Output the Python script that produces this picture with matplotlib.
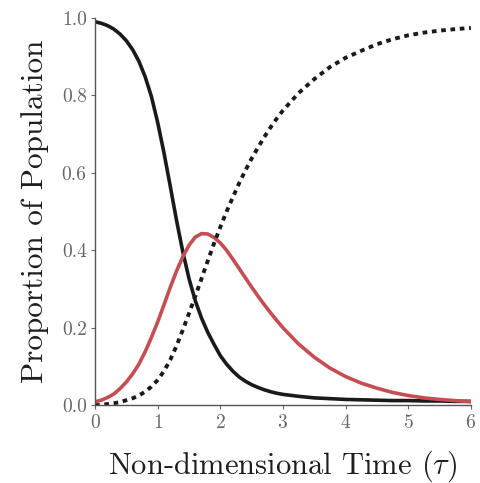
import numpy as np
import matplotlib
matplotlib.use('Agg')
import matplotlib.pyplot as plt

plt.rcParams['font.family'] = 'serif'
plt.rcParams['font.serif'] = ['cmr10', 'DejaVu Serif']
plt.rcParams['mathtext.fontset'] = 'cm'
plt.rcParams['axes.formatter.use_mathtext'] = True

# values (non-dimensional time tau)
tau = [0.0, 0.1, 0.2, 0.3, 0.4, 0.5, 0.6, 0.7, 0.8, 0.9,
       1.0, 1.1, 1.2, 1.3, 1.4, 1.5, 1.6, 1.7, 1.8, 1.9,
       2.0, 2.1, 2.2, 2.3, 2.4, 2.5, 2.6, 2.7, 2.8, 2.9,
       3.0, 3.25, 3.5, 3.75, 4.0, 4.25, 4.5, 4.75, 5.0, 5.25, 5.5, 5.75, 6.0]
susceptible = [0.990, 0.986, 0.980, 0.971, 0.958, 0.941, 0.918, 0.888, 0.848, 0.797,
               0.730, 0.652, 0.566, 0.478, 0.397, 0.327, 0.270, 0.225, 0.188, 0.157,
               0.128, 0.106, 0.088, 0.073, 0.062, 0.053, 0.046, 0.040, 0.035, 0.031,
               0.028, 0.023, 0.019, 0.017, 0.015, 0.014, 0.013, 0.012, 0.012, 0.011, 0.011, 0.010, 0.010]
infected = [0.009, 0.013, 0.020, 0.029, 0.043, 0.060, 0.081, 0.106, 0.138, 0.175,
            0.215, 0.259, 0.304, 0.346, 0.383, 0.413, 0.434, 0.443, 0.442, 0.433,
            0.419, 0.400, 0.377, 0.353, 0.329, 0.305, 0.282, 0.260, 0.239, 0.219,
            0.200, 0.158, 0.124, 0.096, 0.074, 0.057, 0.044, 0.033, 0.025, 0.019, 0.015, 0.012, 0.009]
recovered = [0.000, 0.001, 0.003, 0.005, 0.008, 0.013, 0.018, 0.025, 0.035, 0.048,
             0.065, 0.088, 0.117, 0.153, 0.194, 0.237, 0.281, 0.327, 0.373, 0.418,
             0.460, 0.500, 0.537, 0.573, 0.606, 0.637, 0.665, 0.692, 0.717, 0.740,
             0.761, 0.806, 0.842, 0.873, 0.897, 0.915, 0.932, 0.945, 0.955, 0.962, 0.967, 0.971, 0.974]

fig = plt.figure(figsize=(4.8, 4.83), dpi=100)
ax = fig.add_axes([0.198, 0.161, 0.783, 0.802])

ax.plot(tau, susceptible, color='#1a1a1a', lw=2.6, solid_joinstyle='round', solid_capstyle='round')
ax.plot(tau, infected, color='#c44e52', lw=2.6, solid_joinstyle='round', solid_capstyle='round')
ax.plot(tau, recovered, color='#1a1a1a', lw=2.8, linestyle=(0, (1.2, 1.2)))

ax.set_xlim(0, 6)
ax.set_ylim(0, 1.0)
ax.set_xticks(range(0, 7))
ax.set_yticks([0.0, 0.2, 0.4, 0.6, 0.8, 1.0])
ax.set_yticklabels(['0.0', '0.2', '0.4', '0.6', '0.8', '1.0'])

for s in ['top', 'right']:
    ax.spines[s].set_visible(False)
for s in ['left', 'bottom']:
    ax.spines[s].set_color('#555555')
    ax.spines[s].set_linewidth(1.0)

ax.tick_params(colors='#666666', labelsize=14, length=3, width=0.8, direction='out', pad=3)

ax.set_xlabel(r'Non-dimensional Time $(\tau)$', fontsize=22, color='#1e1e1e', labelpad=12)
ax.set_ylabel('Proportion of Population', fontsize=22.5, color='#1e1e1e', labelpad=9)

fig.savefig('out.png', dpi=100)
